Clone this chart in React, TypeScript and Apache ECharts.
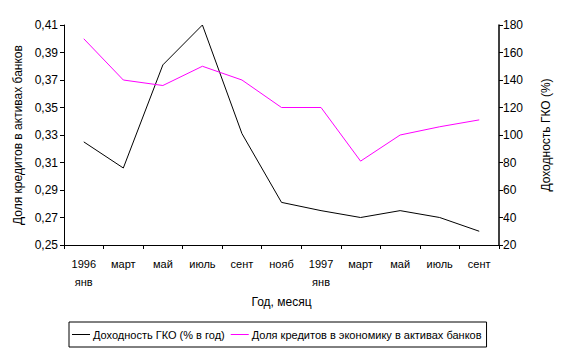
import React, { useEffect, useRef } from "react";
import * as echarts from "echarts";

const categories = ["1996\nянв", "март", "май", "июль", "сент", "нояб", "1997\nянв", "март", "май", "июль", "сент"];
const gkoYield = [95, 76, 151, 180, 101, 51, 45, 40, 45, 40, 30];
const creditShare = [0.40, 0.37, 0.366, 0.38, 0.37, 0.35, 0.35, 0.311, 0.33, 0.336, 0.341];
const leftTicksBase = 0.25; // left axis min
const rightTicks = { min: 20, max: 180, interval: 20 };

const FONT = "Liberation Sans, Arial, sans-serif";

export default function App() {
  const ref = useRef<HTMLDivElement>(null);
  useEffect(() => {
    if (!ref.current) return;
    const chart = echarts.init(ref.current, undefined, { renderer: "svg" });
    const shifted = creditShare.map((v) => Math.round((v - leftTicksBase) * 10000) / 100);
    chart.setOption({
      animation: false,
      textStyle: { fontFamily: FONT, color: "#000" },
      grid: { left: 64, right: 68, top: 25, bottom: 111 },
      legend: {
        left: 69,
        top: 322,
        data: ["Доходность ГКО (% в год)", "Доля кредитов в экономику в активах банков"],
        icon: "rect",
        itemWidth: 18,
        itemHeight: 1,
        itemGap: 6,
        borderColor: "#000",
        borderWidth: 1,
        borderRadius: 0,
        padding: [7, 5, 7, 3],
        textStyle: { fontFamily: FONT, fontSize: 11, color: "#000", padding: [0, 0, 0, -2] },
      },
      xAxis: {
        type: "category",
        data: categories,
        boundaryGap: true,
        name: "Год, месяц",
        nameLocation: "middle",
        nameGap: 50,
        nameTextStyle: { fontFamily: FONT, fontSize: 12, color: "#000" },
        axisLine: { lineStyle: { color: "#000", width: 1 } },
        axisTick: { show: true, inside: false, length: 4, lineStyle: { color: "#000" } },
        axisLabel: { fontFamily: FONT, fontSize: 11, color: "#000", margin: 10, lineHeight: 18, verticalAlign: "top", interval: 0 },
        splitLine: { show: false },
      },
      yAxis: [
        {
          type: "value",
          min: 0,
          max: 16,
          interval: 2,
          position: "left",
          name: "Доля кредитов в активах банков",
          nameLocation: "middle",
          nameGap: 35,
          nameTextStyle: { fontFamily: FONT, fontSize: 12, color: "#000" },
          axisLine: { show: true, lineStyle: { color: "#000" } },
          axisTick: { show: true, length: 4, lineStyle: { color: "#000" } },
          axisLabel: {
            fontFamily: FONT,
            fontSize: 12,
            color: "#000",
            margin: 6,
            formatter: (v: number) => ((v / 100) + leftTicksBase).toFixed(2).replace(".", ","),
          },
          splitLine: { show: false },
        },
        {
          type: "value",
          min: rightTicks.min,
          max: rightTicks.max,
          interval: rightTicks.interval,
          position: "right",
          name: "Доходность ГКО (%)",
          nameLocation: "middle",
          nameGap: 41,
          nameRotate: 90,
          nameTextStyle: { fontFamily: FONT, fontSize: 12, color: "#000" },
          axisLine: { show: true, lineStyle: { color: "#000", width: 1.5 } },
          axisTick: { show: true, length: 4, lineStyle: { color: "#000" } },
          axisLabel: { fontFamily: FONT, fontSize: 12, color: "#000", margin: 4 },
          splitLine: { show: false },
        },
      ],
      series: [
        {
          name: "Доходность ГКО (% в год)",
          type: "line",
          yAxisIndex: 1,
          data: gkoYield,
          symbol: "none",
          lineStyle: { color: "#000", width: 1 },
          itemStyle: { color: "#000" },
        },
        {
          name: "Доля кредитов в экономику в активах банков",
          type: "line",
          yAxisIndex: 0,
          data: shifted,
          symbol: "none",
          lineStyle: { color: "#ff00ff", width: 1 },
          itemStyle: { color: "#ff00ff" },
        },
      ],
    });
    return () => chart.dispose();
  }, []);
  return <div ref={ref} style={{ width: 567, height: 356, position: "absolute", left: 0, top: 0, background: "#fff" }} />;
}
